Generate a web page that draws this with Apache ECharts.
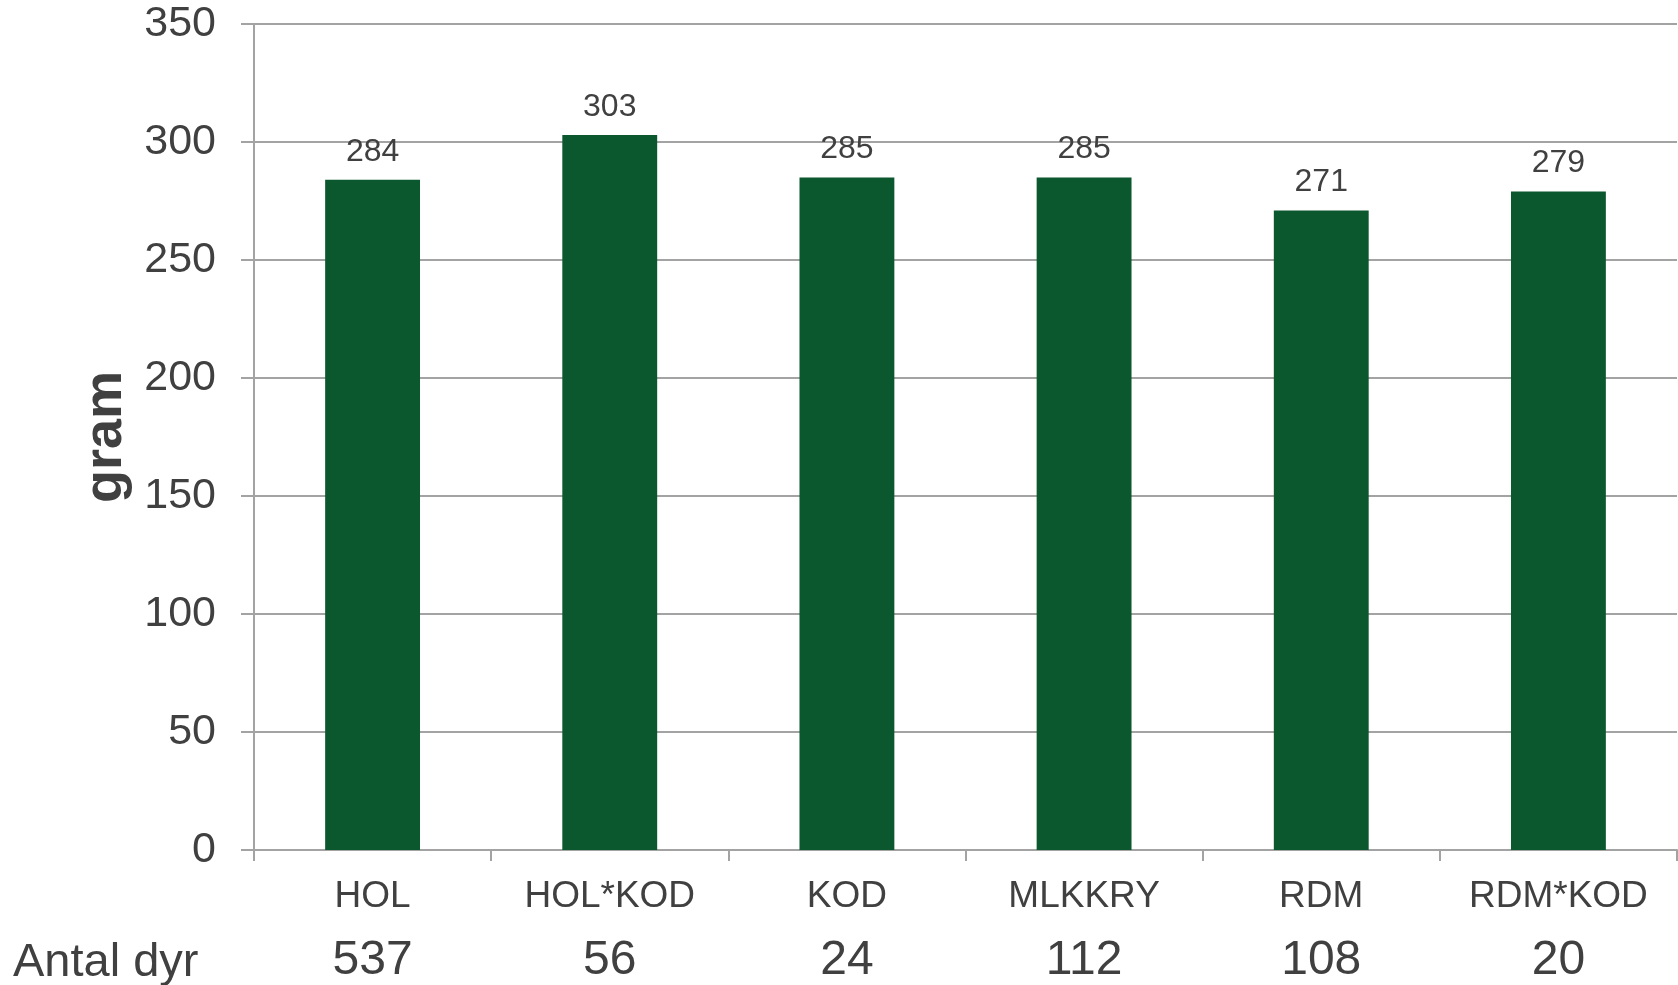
<!DOCTYPE html>
<html>
<head>
<meta charset="utf-8">
<script src="https://cdn.jsdelivr.net/npm/echarts@6/dist/echarts.min.js"></script>
<style>
html,body{margin:0;padding:0;background:#fff;}
#chart{width:1678px;height:985px;}
</style>
</head>
<body>
<div id="chart"></div>
<script>
const categories = ['HOL', 'HOL*KOD', 'KOD', 'MLKKRY', 'RDM', 'RDM*KOD'];
const values = [284, 303, 285, 285, 271, 279];
const counts = [537, 56, 24, 112, 108, 20];
const countLabel = 'Antal dyr';
const yAxisName = 'gram';

const FONT = '"Liberation Sans", Arial, sans-serif';
const TXT = '#404040';
const LINE = '#a3a3a3';

const chart = echarts.init(document.getElementById('chart'));
chart.setOption({
  animation: false,
  textStyle: { fontFamily: FONT },
  grid: { left: 254, right: 1, top: 24, bottom: 131, containLabel: false },
  xAxis: {
    type: 'category',
    data: categories,
    boundaryGap: true,
    axisLine: { show: true, lineStyle: { color: LINE, width: 2 } },
    axisTick: { show: true, length: 11, alignWithLabel: false, lineStyle: { color: LINE, width: 2 } },
    axisLabel: {
      margin: 15,
      interval: 0,
      formatter: function (v, i) { return '{a|' + v + '}\n{b|' + counts[i] + '}'; },
      rich: {
        a: { fontSize: 37, lineHeight: 64, color: TXT, fontFamily: FONT },
        b: { fontSize: 48, lineHeight: 64, color: TXT, fontFamily: FONT }
      }
    }
  },
  yAxis: {
    type: 'value',
    min: 0, max: 350, interval: 50,
    name: yAxisName,
    nameLocation: 'middle',
    nameRotate: 90,
    nameGap: 118,
    nameTextStyle: { fontSize: 54, fontWeight: 'bold', color: TXT, fontFamily: FONT },
    axisLine: { show: true, lineStyle: { color: LINE, width: 2 } },
    axisTick: { show: true, length: 13, lineStyle: { color: LINE, width: 2 } },
    axisLabel: { fontSize: 43, color: TXT, margin: 38, fontFamily: FONT },
    splitLine: { show: true, lineStyle: { color: LINE, width: 2 } }
  },
  graphic: [{
    type: 'text',
    left: 13,
    top: 940,
    style: { text: countLabel, fontSize: 47, fill: TXT, fontFamily: FONT }
  }],
  series: [{
    type: 'bar',
    data: values,
    barCategoryGap: '60%',
    itemStyle: { color: '#0b572e' },
    label: { show: true, position: 'top', distance: 12, fontSize: 32, color: TXT, fontFamily: FONT }
  }]
});
</script>
</body>
</html>
